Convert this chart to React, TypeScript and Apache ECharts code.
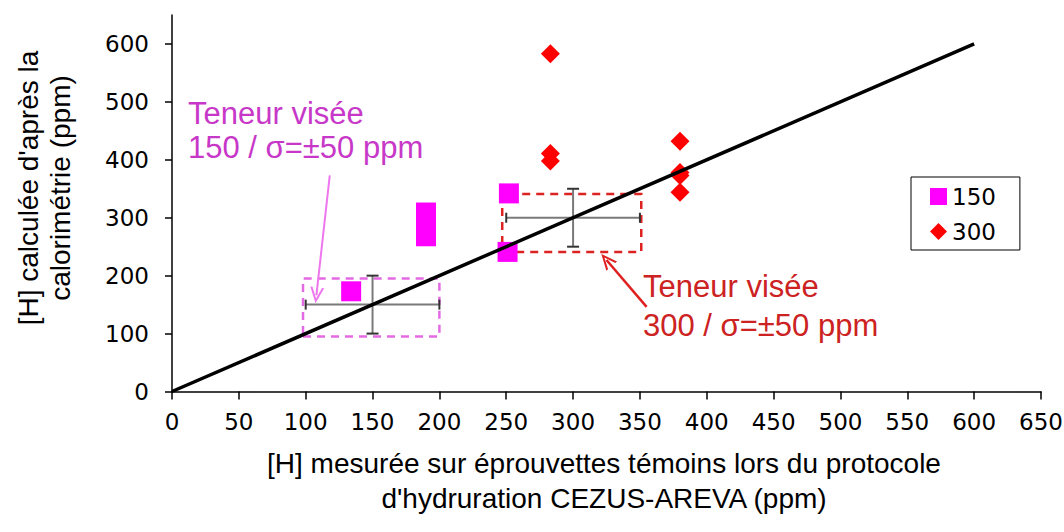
import React, { useEffect, useRef } from "react";
import * as echarts from "echarts";

// ---- data ----
const yLabelValues = [0, 100, 200, 300, 400, 500, 600];
const series150: [number, number][] = [
  [134, 173],
  [190, 268],
  [190, 289],
  [190, 309],
  [252, 342],
  [251, 241],
];
const series300: [number, number][] = [
  [283, 583],
  [283, 398],
  [283, 411],
  [380, 432],
  [380, 373],
  [380, 378],
  [380, 344],
];
const identityLine: [number, number][] = [
  [0, 0],
  [600, 600],
];
// [x, y, half-width]
const errorBars: [number, number, number][] = [
  [150, 150, 50],
  [300, 300, 50],
];
const box150: [number, number][] = [
  [98, 95],
  [200, 195],
];
const box300: [number, number][] = [
  [247, 241],
  [351, 341],
];
const arrow150: [number, number][] = [
  [118, 373],
  [108, 166],
];
const arrow300: [number, number][] = [
  [355, 146],
  [325, 227],
];
const xTitle =
  "[H] mesurée sur éprouvettes témoins lors du protocole\nd'hydruration CEZUS-AREVA (ppm)";
const yTitle = "[H] calculée d'après la\ncalorimétrie (ppm)";
const note150 = "Teneur visée\n150 / σ=±50 ppm";
const note300 = "Teneur visée\n300 / σ=±50 ppm";

const MAGENTA = "#ff00ff";
const RED = "#ff0000";
const TICK_FONT = "DejaVu Sans, Verdana, sans-serif";
const TEXT_FONT = "Liberation Sans, Arial, sans-serif";
const chevron = "path://M5,0 L10,10 L8.4,10 L5,3 L1.6,10 L0,10 Z";

export default function App() {
  const ref = useRef<HTMLDivElement>(null);
  useEffect(() => {
    if (!ref.current) return;
    const chart = echarts.init(ref.current, undefined, { renderer: "svg" });
    chart.setOption({
      animation: false,
      backgroundColor: "#ffffff",
      grid: {
        left: 172,
        top: 15,
        width: 869,
        height: 376.5,
        containLabel: false,
        outerBoundsMode: "none",
      },
      legend: {
        orient: "vertical",
        left: 911,
        top: 177,
        padding: [8, 24, 7, 19],
        itemWidth: 17,
        itemHeight: 17,
        itemGap: 12,
        borderColor: "#000",
        borderWidth: 1,
        textStyle: { fontFamily: TICK_FONT, fontSize: 23, color: "#000" },
        data: [
          { name: "150", icon: "rect" },
          { name: "300", icon: "diamond" },
        ],
      },
      xAxis: {
        type: "value",
        min: 0,
        max: 650,
        interval: 50,
        splitLine: { show: false },
        axisLine: { onZero: false, lineStyle: { color: "#000", width: 1.5 } },
        axisTick: { show: true, length: 8, lineStyle: { color: "#000", width: 1.5 } },
        axisLabel: {
          margin: 19,
          fontFamily: TICK_FONT,
          fontSize: 23,
          color: "#000",
        },
      },
      yAxis: {
        type: "value",
        min: 0,
        max: 650,
        interval: 100,
        splitLine: { show: false },
        axisLine: { show: true, onZero: false, lineStyle: { color: "#000", width: 1.5 } },
        axisTick: {
          show: true,
          length: 7,
          customValues: yLabelValues,
          lineStyle: { color: "#000", width: 1.5 },
        },
        axisLabel: {
          margin: 23,
          customValues: yLabelValues,
          fontFamily: TICK_FONT,
          fontSize: 23,
          color: "#000",
        },
      },
      series: [
        {
          name: "boxes",
          type: "line",
          data: [],
          silent: true,
          markArea: {
            silent: true,
            data: [
              [
                {
                  coord: box150[0],
                  itemStyle: {
                    color: "rgba(0,0,0,0)",
                    borderColor: "#e46ae4",
                    borderWidth: 2.5,
                    borderType: [8, 6],
                  },
                },
                { coord: box150[1] },
              ],
              [
                {
                  coord: box300[0],
                  itemStyle: {
                    color: "rgba(0,0,0,0)",
                    borderColor: "#dd2222",
                    borderWidth: 2.5,
                    borderType: [8, 6],
                  },
                },
                { coord: box300[1] },
              ],
            ],
          },
          markLine: {
            silent: true,
            symbol: ["none", chevron],
            symbolSize: [14, 16],
            label: { show: false },
            data: [
              [
                { coord: arrow150[0], lineStyle: { color: "#ee77ee", width: 2, type: "solid" } },
                { coord: arrow150[1] },
              ],
              [
                { coord: arrow300[0], lineStyle: { color: "#e02020", width: 2.5, type: "solid" } },
                { coord: arrow300[1] },
              ],
            ],
          },
        },
        {
          name: "errors",
          type: "custom",
          silent: true,
          data: errorBars,
          encode: { x: 0, y: 1 },
          renderItem: (params: any, api: any) => {
            const cx = api.value(0);
            const cy = api.value(1);
            const e = api.value(2);
            const l = api.coord([cx - e, cy]);
            const r = api.coord([cx + e, cy]);
            const t = api.coord([cx, cy + e]);
            const b = api.coord([cx, cy - e]);
            const grey = { stroke: "#7a7a7a", lineWidth: 2 };
            const dark = { stroke: "#333333", lineWidth: 2 };
            return {
              type: "group",
              children: [
                { type: "line", shape: { x1: l[0], y1: l[1], x2: r[0], y2: r[1] }, style: grey },
                { type: "line", shape: { x1: l[0], y1: l[1] - 5, x2: l[0], y2: l[1] + 5 }, style: dark },
                { type: "line", shape: { x1: r[0], y1: r[1] - 5, x2: r[0], y2: r[1] + 5 }, style: dark },
                { type: "line", shape: { x1: t[0], y1: t[1], x2: b[0], y2: b[1] }, style: grey },
                { type: "line", shape: { x1: t[0] - 6, y1: t[1], x2: t[0] + 6, y2: t[1] }, style: dark },
                { type: "line", shape: { x1: b[0] - 6, y1: b[1], x2: b[0] + 6, y2: b[1] }, style: dark },
              ],
            };
          },
        },
        {
          name: "150",
          type: "scatter",
          symbol: "rect",
          symbolSize: 20,
          itemStyle: { color: MAGENTA, opacity: 1 },
          data: series150,
        },
        {
          name: "300",
          type: "scatter",
          symbol: "diamond",
          symbolSize: 19,
          itemStyle: { color: RED, opacity: 1 },
          data: series300,
        },
        {
          name: "identity",
          type: "line",
          silent: true,
          showSymbol: false,
          symbol: "none",
          lineStyle: { color: "#000", width: 3.5 },
          data: identityLine,
          z: 5,
        },
      ],
      graphic: [
        {
          type: "text",
          x: 604,
          y: 481,
          silent: true,
          style: {
            text: xTitle,
            fontFamily: TEXT_FONT,
            fontSize: 28,
            lineHeight: 35,
            fill: "#000",
            textAlign: "center",
            textVerticalAlign: "middle",
          },
        },
        {
          type: "text",
          x: 44,
          y: 188,
          rotation: Math.PI / 2,
          silent: true,
          style: {
            text: yTitle,
            fontFamily: TEXT_FONT,
            fontSize: 28,
            lineHeight: 32,
            fill: "#000",
            textAlign: "center",
            textVerticalAlign: "middle",
          },
        },
        {
          type: "text",
          x: 188,
          y: 96,
          silent: true,
          style: {
            text: note150,
            fontFamily: TEXT_FONT,
            fontSize: 31,
            lineHeight: 34,
            fill: "#c838c8",
            textAlign: "left",
            textVerticalAlign: "top",
          },
        },
        {
          type: "text",
          x: 643,
          y: 267,
          silent: true,
          style: {
            text: note300,
            fontFamily: TEXT_FONT,
            fontSize: 31,
            lineHeight: 39,
            fill: "#cc2222",
            textAlign: "left",
            textVerticalAlign: "top",
          },
        },
      ],
    });
    return () => chart.dispose();
  }, []);
  return (
    <div
      ref={ref}
      style={{ position: "fixed", left: 0, top: 0, width: 1064, height: 532, background: "#fff" }}
    />
  );
}
